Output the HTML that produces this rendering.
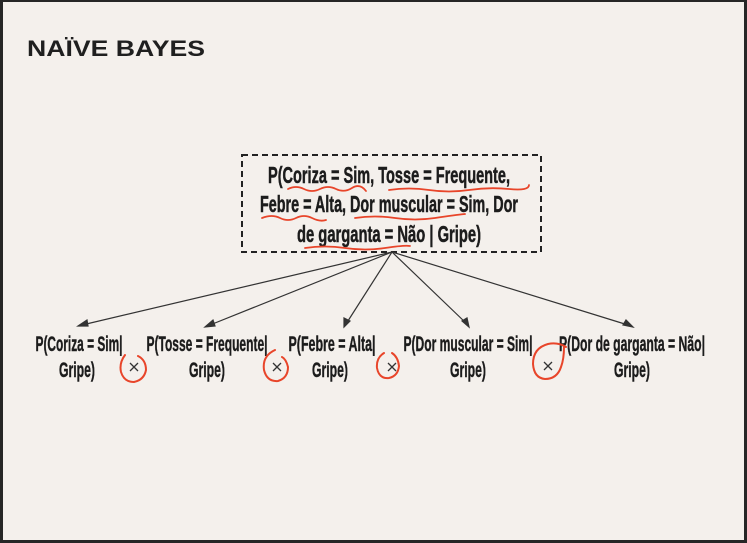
<!DOCTYPE html>
<html><head><meta charset="utf-8"><style>
html,body{margin:0;padding:0;background:#2a2a2a;}
svg{display:block}
</style></head><body>
<svg width="747" height="543" viewBox="0 0 747 543" xmlns="http://www.w3.org/2000/svg">
<rect x="0" y="0" width="747" height="543" fill="#262626"/>
<rect x="3" y="2" width="741" height="538" fill="#f4f0ec"/>
<text x="27" y="56" font-family="Liberation Sans, sans-serif" font-weight="bold" font-size="22" fill="#1f1f1f" textLength="178" lengthAdjust="spacingAndGlyphs">NAÏVE BAYES</text>
<rect x="242" y="155" width="299" height="97" fill="none" stroke="#222" stroke-width="2" stroke-dasharray="6,4"/>
<g font-family="Liberation Sans Narrow, Liberation Sans, sans-serif" font-weight="bold" fill="#1c1c1c" stroke="#1c1c1c" stroke-width="0.5" font-size="23" text-anchor="middle">
<text x="389" y="183" textLength="242" lengthAdjust="spacingAndGlyphs">P(Coriza = Sim, Tosse = Frequente,</text>
<text x="389" y="212" textLength="258" lengthAdjust="spacingAndGlyphs">Febre = Alta, Dor muscular = Sim, Dor</text>
<text x="389" y="242" textLength="184" lengthAdjust="spacingAndGlyphs">de garganta = Não | Gripe)</text>
</g>
<g fill="none" stroke="#e8452a" stroke-width="1.8" stroke-linecap="round">
<path d="M288 189 q8 -4 16 0 t16 0 t16 0 t16 -1 t14 3"/>
<path d="M389 190 q20 -3 40 0 t40 0 t40 -1 t20 -4"/>
<path d="M262 218 q10 -4 18 0 t16 0 t16 0 t14 2"/>
<path d="M355 218 q20 -3 40 0 t40 0 t30 -4"/>
<path d="M305 248 q20 -3 40 0 t40 0 t25 -2"/>
</g>
<g stroke="#333" stroke-width="1.2" fill="#333">
<line x1="392" y1="252" x2="82" y2="325"/>
<line x1="392" y1="252" x2="210" y2="325"/>
<line x1="392" y1="252" x2="346" y2="324"/>
<line x1="392" y1="252" x2="467" y2="324"/>
<line x1="392" y1="252" x2="628" y2="325"/>
<polygon points="78,326 87,320 88,326"/>
<polygon points="205,327 213,320 215,326"/>
<polygon points="344,327 344,318 350,321"/>
<polygon points="469,327 462,321 467,318"/>
<polygon points="633,327 623,325 626,320"/>
</g>
<g font-family="Liberation Sans Narrow, Liberation Sans, sans-serif" font-weight="bold" fill="#1c1c1c" stroke="#1c1c1c" stroke-width="0.4" font-size="21" text-anchor="middle">
<text x="79" y="351" textLength="87" lengthAdjust="spacingAndGlyphs">P(Coriza = Sim|</text>
<text x="77" y="377" textLength="36" lengthAdjust="spacingAndGlyphs">Gripe)</text>
<text x="207" y="351" textLength="121" lengthAdjust="spacingAndGlyphs">P(Tosse = Frequente|</text>
<text x="207" y="377" textLength="36" lengthAdjust="spacingAndGlyphs">Gripe)</text>
<text x="332" y="351" textLength="87" lengthAdjust="spacingAndGlyphs">P(Febre = Alta|</text>
<text x="330" y="377" textLength="36" lengthAdjust="spacingAndGlyphs">Gripe)</text>
<text x="468" y="351" textLength="129" lengthAdjust="spacingAndGlyphs">P(Dor muscular = Sim|</text>
<text x="468" y="377" textLength="36" lengthAdjust="spacingAndGlyphs">Gripe)</text>
<text x="632" y="351" textLength="146" lengthAdjust="spacingAndGlyphs">P(Dor de garganta = Não|</text>
<text x="632" y="377" textLength="36" lengthAdjust="spacingAndGlyphs">Gripe)</text>
</g>
<g stroke="#333" stroke-width="1.3">
<path d="M130 363 l8 8 M138 363 l-8 8"/>
<path d="M273 363 l8 8 M281 363 l-8 8"/>
<path d="M388 363 l8 8 M396 363 l-8 8"/>
<path d="M544 362 l8 8 M552 362 l-8 8"/>
</g>
<g fill="none" stroke="#e8452a" stroke-width="2" stroke-linecap="round">
<path d="M125 355 q-6 8 -4 17 q3 10 13 10 q10 -2 12 -12 q0 -10 -8 -14"/>
<path d="M275 350 q-13 6 -11 20 q3 12 14 11 q10 -3 10 -14 q-2 -8 -6 -10"/>
<path d="M384 353 q-8 5 -7 15 q2 11 12 10 q9 -2 10 -12 q-1 -9 -7 -13"/>
<path d="M566 347 q-8 -5 -18 -3 q-15 4 -15 20 q1 14 12 15 q12 0 16 -12 q3 -8 3 -20"/>
</g>
</svg>
</body></html>
